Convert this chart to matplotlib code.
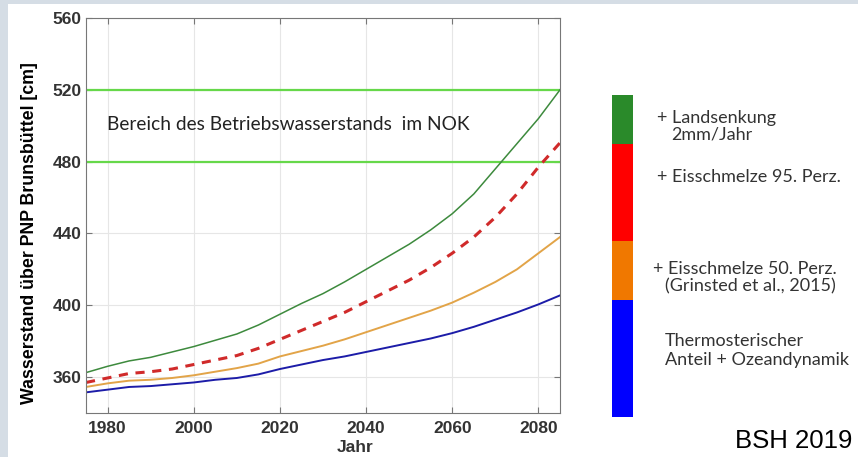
import numpy as np
import matplotlib
matplotlib.use("Agg")
import matplotlib.pyplot as plt
from matplotlib.patches import Rectangle

years = [1975, 1980, 1985, 1990, 1995, 2000, 2005, 2010, 2015, 2020, 2025, 2030,
         2035, 2040, 2045, 2050, 2055, 2060, 2065, 2070, 2075, 2080, 2085]
thermo = [351.5, 353, 354.5, 355, 356, 357, 358.5, 359.5, 361.5, 364.5, 367, 369.5,
          371.5, 374, 376.5, 379, 381.5, 384.5, 388, 392, 396, 400.5, 405.5]
eis50 = [354.5, 356.5, 358, 358.5, 359.5, 361, 363, 365, 367.5, 371.5, 374.5, 377.5,
         381, 385, 389, 393, 397, 401.5, 407, 413, 420, 429, 438]
eis95 = [357, 359.5, 362, 363, 364.5, 367, 369.5, 372, 376, 381, 386, 391,
         396, 402, 408, 414, 421, 429, 438, 449, 462, 477, 490.5]
land = [362.5, 366, 369, 371, 374, 377, 380.5, 384, 389, 395, 401, 406.5,
        413, 420, 427, 434, 442, 451, 462, 476, 490, 504, 520]
nok_levels = [480, 520]

# colour bar legend: segment heights from bottom (blue) to top (green)
legend_heights = [117, 59, 97, 49]
legend_colors = ["#0000ff", "#f07800", "#ff0000", "#2a8a2a"]
legend_lines = ["+ Landsenkung", "2mm/Jahr", "+ Eisschmelze 95. Perz.",
                "+ Eisschmelze 50. Perz.", "(Grinsted et al., 2015)",
                "Thermosterischer", "Anteil + Ozeandynamik"]

fig = plt.figure(figsize=(8.58, 4.57), dpi=100)
fig.patch.set_facecolor("#d5dde5")
fig.add_artist(Rectangle((8 / 858, 0), 1, 453 / 457, transform=fig.transFigure,
                         facecolor="white", edgecolor="none", zorder=0))

ax = fig.add_axes([86 / 858, 44 / 457, 474 / 858, 395 / 457])
ax.set_xlim(1975, 2085)
ax.set_ylim(340, 560)
ax.grid(True, color="#e6e6e6", lw=0.8)
ax.set_axisbelow(True)

for lv in nok_levels:
    ax.axhline(lv, color="#66d84a", lw=1.6)
ax.plot(years, thermo, color="#1c1ca8", lw=1.4)
ax.plot(years, eis50, color="#e2a448", lw=1.4)
ax.plot(years, eis95, color="#d02a2a", lw=2.2, ls=(0, (3, 2.5)))
ax.plot(years, land, color="#3d8a3d", lw=1.1)

fig.text(107 / 858, 1 - 130 / 457, "Bereich des Betriebswasserstands  im NOK",
         fontsize=13.8, family="Lato", color="#222222", va="baseline")

ax.set_xticks([1980, 2000, 2020, 2040, 2060, 2080])
ax.set_yticks([360, 400, 440, 480, 520, 560])
ax.tick_params(direction="in", top=True, right=True, length=4, color="#777777",
               labelsize=12.5, labelcolor="#333333")
ax.tick_params(axis="x", pad=6)
ax.tick_params(axis="y", pad=3)
for lab in ax.get_xticklabels() + ax.get_yticklabels():
    lab.set_fontweight("bold")
    lab.set_family("Liberation Sans")
for sp in ax.spines.values():
    sp.set_color("#777777")
ax.set_xlabel("Jahr", fontsize=12.5, fontweight="bold", family="Liberation Sans",
              color="#333333")
ax.xaxis.set_label_coords((355 - 86) / 474, (413 - 447) / 395)
ax.xaxis.label.set_va("center")
ax.set_ylabel("Wasserstand über PNP Brunsbüttel [cm]", fontsize=12.8,
              fontweight="bold", family="Liberation Sans", color="black")
ax.yaxis.set_label_coords((30 - 86) / 474, (413 - 233) / 395)
ax.yaxis.label.set_va("center")

lax = fig.add_axes([612 / 858, 40 / 457, 21 / 858, 322 / 457])
lax.set_xlim(0, 1)
lax.set_ylim(0, sum(legend_heights))
bottom = 0
for h, c in zip(legend_heights, legend_colors):
    lax.bar(0.5, h, bottom=bottom, width=1, color=c, edgecolor="none")
    bottom += h
lax.axis("off")

line_pos = [(657, 123), (671, 140), (657, 182), (653, 274), (665, 291),
            (665, 346), (665, 365)]
for (px, py), t in zip(line_pos, legend_lines):
    fig.text(px / 858, 1 - py / 457, t, fontsize=13, family="Lato",
             color="#333333", va="baseline", ha="left")

fig.text(735 / 858, 1 - 448 / 457, "BSH 2019", fontsize=18.5, family="Liberation Sans",
         color="black", va="baseline", ha="left")

fig.savefig("out.png", dpi=100, facecolor=fig.get_facecolor())
